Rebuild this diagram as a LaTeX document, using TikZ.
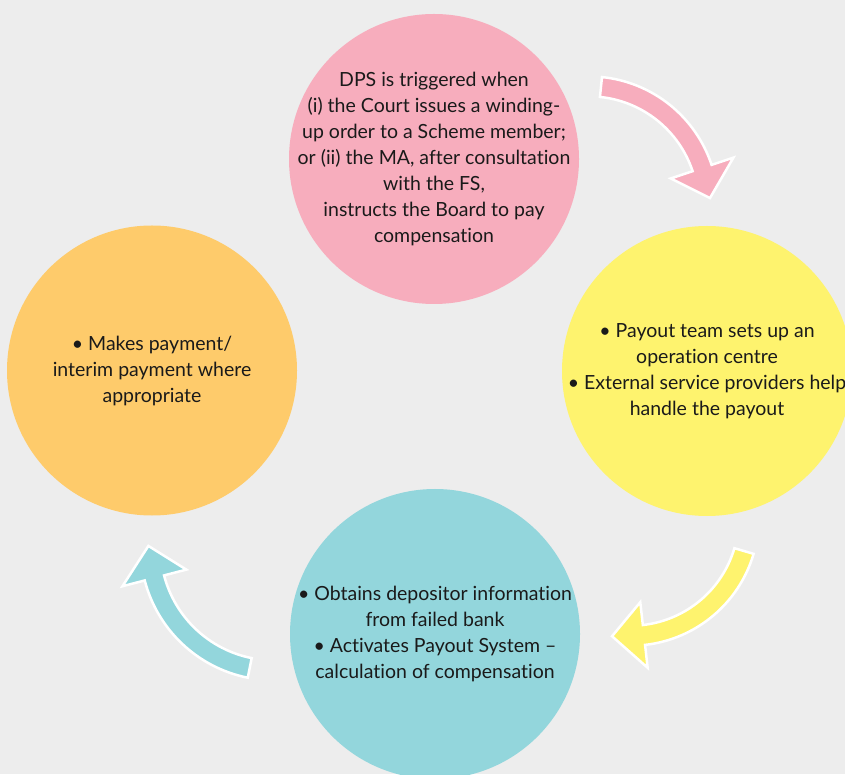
\documentclass[tikz,border=0pt]{standalone}
\usepackage{fontspec}
\setmainfont{Lato}[Ligatures={NoCommon}]
\definecolor{bg}{HTML}{EDEDED}
\definecolor{pinkc}{HTML}{F7ADBD}
\definecolor{yellowc}{HTML}{FEF36E}
\definecolor{tealc}{HTML}{93D6DC}
\definecolor{orangec}{HTML}{FECB6B}
\definecolor{txt}{HTML}{1A1A1A}
\tikzset{
  bubble/.style={circle, minimum size=290pt, inner sep=-40pt, align=center,
    font=\fontsize{19.5}{26}\selectfont, text=txt},
  blockarrow/.style={draw=white, line width=2.5pt, line join=miter}
}
% #1 centre, #2 radius, #3 tail angle, #4 head-base angle, #5 tip angle, #6 colour
\newcommand{\curvedblockarrow}[6]{%
  \filldraw[blockarrow, fill=#6, shift={#1}]
    (#3:{#2+10}) arc[start angle=#3, end angle=#4, radius={#2+10}]
    -- (#4:{#2+33}) -- (#5:{#2+2}) -- (#4:{#2-33}) -- (#4:{#2-10})
    arc[start angle=#4, end angle=#3, radius={#2-10}] -- cycle;}
\begin{document}
\begin{tikzpicture}[x=1pt, y=1pt]
  \useasboundingbox (0,0) rectangle (845,774);
  \fill[bg] (0,0) rectangle (845,774);
  \clip (0,0) rectangle (845,774);

  \node[bubble, fill=pinkc] (pink) at (434,615) {DPS is triggered when\\(i) the Court issues a winding-\\up order to a Scheme member;\\or (ii) the MA, after consultation\\with the FS,\\instructs the Board to pay\\compensation};
  \node[bubble, fill=yellowc] (yellow) at (707,403) {• Payout team sets up an\\operation centre\\• External service providers help\\handle the payout};
  \node[bubble, fill=tealc] (teal) at (435,140) {• Obtains depositor information\\from failed bank\\• Activates Payout System –\\calculation of compensation};
  \node[bubble, fill=orangec] (orange) at (152,403.5) {• Makes payment/\\interim payment where\\appropriate};

  \curvedblockarrow{(588.9,568.3)}{119.3}{84.2}{18.4}{3.6}{pinkc}
  \curvedblockarrow{(630.8,256.3)}{118}{-16.4}{-83.6}{-99}{yellowc}
  \curvedblockarrow{(273.9,227.2)}{123.5}{-101.3}{-165.4}{-180.4}{tealc}
\end{tikzpicture}
\end{document}
